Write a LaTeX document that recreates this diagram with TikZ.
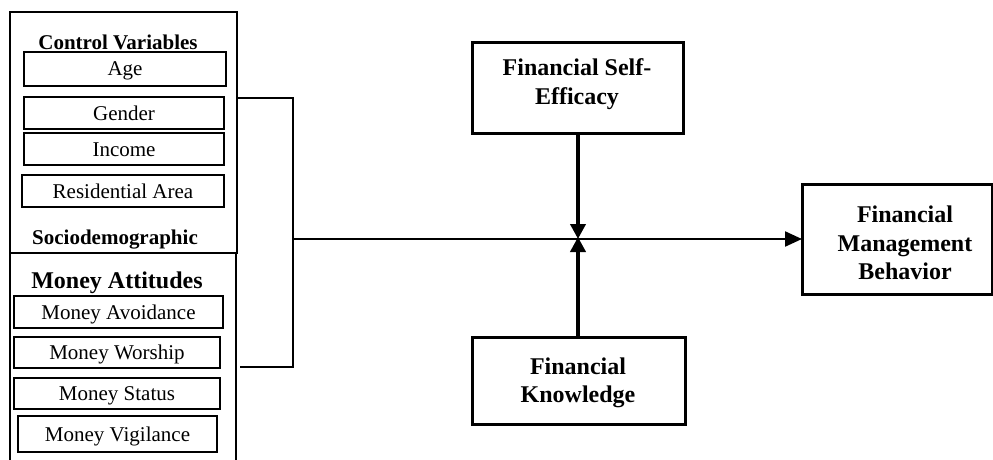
\documentclass[tikz,border=0pt]{standalone}
\usepackage{fontspec}
\setmainfont{Liberation Serif}
\usetikzlibrary{arrows.meta}
\tikzset{
  px/.style={x=1pt,y=-1pt},
  outerbox/.style={draw, line width=2pt, inner sep=0pt, outer sep=0pt},
  inbox/.style={draw, line width=2.6pt, inner sep=0pt, outer sep=0pt, minimum height=32pt,
    text height=14pt, text depth=0pt, font=\fontsize{21}{25}\selectfont},
  mainbox/.style={draw, line width=3pt, inner sep=0pt, outer sep=0pt},
  mainlbl/.style={align=center, inner sep=0pt, font=\fontsize{24}{28.5}\selectfont\bfseries},
  grouplbl/.style={anchor=base, inner sep=0pt, font=\fontsize{21}{25}\selectfont\bfseries},
  conn/.style={line width=2pt},
  arr/.style={line width=2.2pt, -{Triangle[length=17pt,width=15pt]}},
  varr/.style={line width=4pt, -{Triangle[length=15pt,width=15pt]}}
}
\begin{document}
\begin{tikzpicture}[px]
\useasboundingbox (0,0) rectangle (993,460);
% outer groups
\node[outerbox, minimum width=227pt, minimum height=241pt] (sd) at (123.5,132.5) {};
\draw[line width=2pt] (10,462) -- (10,253) -- (236,253) -- (236,462);
\coordinate (ma) at (123,253);
% group labels
\node[grouplbl] (cvl) at (118,50) {Control Variables};
\node[grouplbl] (sdl) at (115,244) {Sociodemographic};
\node[grouplbl, font=\fontsize{24}{28}\selectfont\bfseries] (mal) at (117,288) {Money Attitudes};
% control variables
\node[inbox, minimum width=202pt, minimum height=34pt] (age) at (125,69) {Age};
\node[inbox, minimum width=200pt] (gen) at (124,113) {Gender};
\node[inbox, minimum width=200pt] (inc) at (124,149) {Income};
\node[inbox, minimum width=202pt] (res) at (123,191) {Residential Area};
% money attitudes
\node[inbox, minimum width=209pt] (mav) at (118.5,312) {Money Avoidance};
\node[inbox, minimum width=206pt, minimum height=31pt] (mwo) at (117,352.5) {Money Worship};
\node[inbox, minimum width=206pt, minimum height=31pt] (mst) at (117,393.5) {Money Status};
\node[inbox, minimum width=199pt, minimum height=36pt] (mvi) at (117.5,434) {Money Vigilance};
% main boxes
\node[mainbox, minimum width=211pt, minimum height=90pt] (fse) at (577.5,88) {};
\node[mainlbl] (fsel) at (577,84) {Financial Self-\\Efficacy};
\node[mainbox, minimum width=213pt, minimum height=87pt] (fk) at (578.5,380.5) {};
\node[mainlbl] (fkl) at (578,383) {Financial\\Knowledge};
\node[mainbox, minimum width=190pt, minimum height=110pt] (fmb) at (897,239) {};
\node[mainlbl] (fmbl) at (905,243) {Financial\\Management\\Behavior};
% connectors
\coordinate (bt) at (237,98);
\coordinate (btr) at (293,98);
\coordinate (bbr) at (293,367);
\coordinate (bb) at (240,367);
\coordinate (bm) at (293,239);
\coordinate (j) at (578,239);
\draw[conn] (bt) -- (btr) -- (bbr) -- (bb);
\draw[arr] (bm) -- (fmb.west);
\draw[varr] (fse.south -| j) -- (j);
\draw[varr] (fk.north -| j) -- ([yshift=2pt]j);
\end{tikzpicture}
\end{document}
